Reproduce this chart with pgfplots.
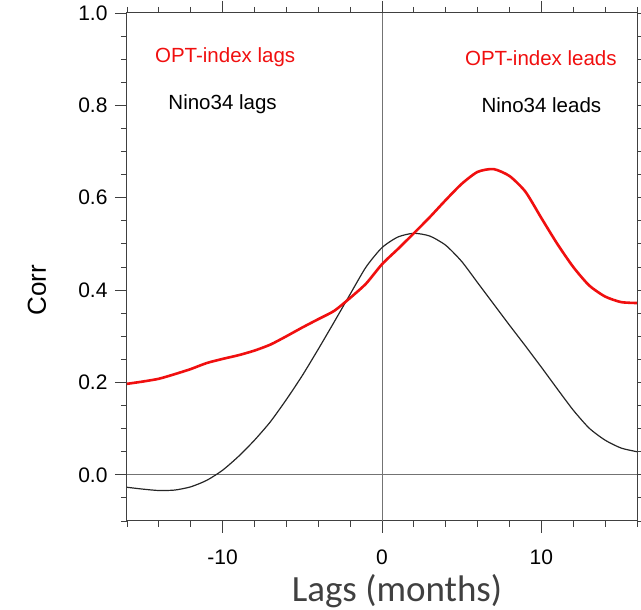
\documentclass[border=0pt]{standalone}
\usepackage{pgfplots}
\pgfplotsset{compat=1.18}
\usepackage{fontspec}
\setmainfont{Liberation Sans}
\newfontfamily\calibri{Carlito}
\definecolor{optred}{RGB}{240,15,15}
\definecolor{lbl}{RGB}{64,64,64}
\begin{document}
\begin{tikzpicture}
\begin{axis}[
  at={(0,0)}, anchor=south west,
  scale only axis, width=510pt, height=508pt,
  xmin=-16, xmax=16, ymin=-0.1, ymax=1.0,
  xtick={-10,0,10}, xticklabels={-10,0,10},
  minor xtick={-16,-14,-12,-8,-6,-4,-2,2,4,6,8,12,14,16},
  ytick={0,0.2,0.4,0.6,0.8,1.0}, yticklabels={0.0,0.2,0.4,0.6,0.8,1.0},
  minor ytick={-0.1,-0.05,0.05,0.1,0.15,0.25,0.3,0.35,0.45,0.5,0.55,0.65,0.7,0.75,0.85,0.9,0.95},
  tick align=outside,
  major tick length=12pt, minor tick length=6pt,
  tick style={black!75, line width=0.9pt},
  axis line style={black!75, line width=1pt},
  tick label style={font=\fontsize{21}{21}\selectfont},
  xticklabel style={yshift=-13pt},
  yticklabel style={xshift=-4pt},
  clip=false,
]
\addplot[black!55, line width=0.8pt] coordinates {(0,-0.1) (0,1.0)};
\addplot[black!55, line width=0.8pt] coordinates {(-16,0) (16,0)};
\addplot[black!85, line width=1.2pt, smooth, tension=0.4] coordinates {
(-16,-0.027) (-15,-0.031) (-14,-0.034) (-13,-0.033) (-12,-0.026) (-11,-0.012)
(-10,0.010) (-9,0.040) (-8,0.075) (-7,0.115) (-6,0.163) (-5,0.215) (-4,0.272)
(-3,0.331) (-2,0.391) (-1,0.450) (0,0.492) (1,0.515) (2,0.523) (3,0.517)
(4,0.497) (5,0.462) (6,0.416) (7,0.370) (8,0.324) (9,0.279) (10,0.233)
(11,0.186) (12,0.140) (13,0.101) (14,0.075) (15,0.058) (16,0.050)};
\addplot[optred, line width=2.6pt, smooth, tension=0.4] coordinates {
(-16,0.197) (-15,0.202) (-14,0.208) (-13,0.218) (-12,0.229) (-11,0.242)
(-10,0.251) (-9,0.259) (-8,0.269) (-7,0.282) (-6,0.300) (-5,0.319) (-4,0.337)
(-3,0.355) (-2,0.383) (-1,0.414) (0,0.456) (1,0.489) (2,0.523) (3,0.558)
(4,0.595) (5,0.630) (6,0.656) (7,0.662) (8,0.647) (9,0.613) (10,0.556)
(11,0.500) (12,0.450) (13,0.410) (14,0.386) (15,0.374) (16,0.372)};
\node[optred, font=\fontsize{20.5}{20.5}\selectfont] at (axis cs:-9.84,0.905) {OPT-index lags};
\node[black, font=\fontsize{20.5}{20.5}\selectfont] at (axis cs:-10.0,0.803) {Nino34 lags};
\node[optred, font=\fontsize{20.5}{20.5}\selectfont] at (axis cs:9.97,0.903) {OPT-index leads};
\node[black, font=\fontsize{20.5}{20.5}\selectfont] at (axis cs:10.0,0.800) {Nino34 leads};
\end{axis}
\node[rotate=90, font=\fontsize{26}{26}\selectfont] at (-90pt,231pt) {Corr};
\node[lbl, anchor=base, font=\calibri\fontsize{37}{37}\selectfont] at (270pt,-80.7pt) {Lags (months)};
\pgfresetboundingbox
\useasboundingbox (-127pt,-89pt) rectangle (514pt,521pt);
\end{tikzpicture}
\end{document}
